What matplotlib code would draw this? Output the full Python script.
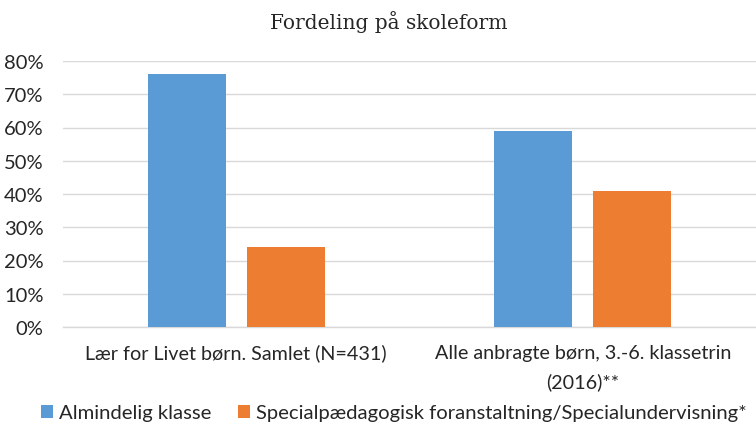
import matplotlib
matplotlib.use("Agg")
import matplotlib.pyplot as plt
import numpy as np
from matplotlib.ticker import FuncFormatter

categories = ["Lær for Livet børn. Samlet (N=431)", "Alle anbragte børn, 3.-6. klassetrin\n(2016)**"]
series_names = ["Almindelig klasse", "Specialpædagogisk foranstaltning/Specialundervisning*"]
almindelig = [76, 59]
special = [24, 41]
yticks = [0, 10, 20, 30, 40, 50, 60, 70, 80]
colors = ["#5B9BD5", "#ED7D31"]

plt.rcParams['font.family'] = ['Lato', 'DejaVu Sans']

fig = plt.figure(figsize=(7.56, 4.27), dpi=100)
ax = fig.add_axes([63/756, 1-328/427, 1-63/756, (328-62)/427])

x = np.arange(len(categories))
w = 0.225
gap = 0.06
ax.bar(x - (w+gap)/2, almindelig, width=w, color=colors[0], label=series_names[0], zorder=3)
ax.bar(x + (w+gap)/2, special, width=w, color=colors[1], label=series_names[1], zorder=3)

ax.set_xlim(-0.5, 1.5)
ax.set_ylim(0, 80)
ax.set_yticks(yticks)
ax.yaxis.set_major_formatter(FuncFormatter(lambda v, p: f"{int(v)}%"))
ax.grid(axis='y', color='#d9d9d9', linewidth=1.0, zorder=0)
for s in ['top', 'right', 'left']:
    ax.spines[s].set_visible(False)
ax.spines['bottom'].set_color('#d9d9d9')
ax.spines['bottom'].set_linewidth(1.0)
ax.tick_params(axis='both', length=0, colors='#262626')
ax.tick_params(axis='y', pad=14, labelsize=14.5)
ax.tick_params(axis='x', pad=12)
ax.set_xticks(x)
ax.set_xticklabels(categories, fontsize=14.2, color='#262626', linespacing=1.75)

fig.text(389/756, 1-22/427, "Fordeling på skoleform", ha='center', va='center',
         fontsize=14.5, family=['DejaVu Serif'], color='#262626')

leg = fig.legend(loc='center', bbox_to_anchor=(394/756, 1-414/427), ncol=2, frameon=False,
                 fontsize=14.6, handlelength=0.6, handleheight=0.6, handletextpad=0.3,
                 columnspacing=1.3)
for t in leg.get_texts():
    t.set_color('#262626')

fig.savefig("out.png", dpi=100)
